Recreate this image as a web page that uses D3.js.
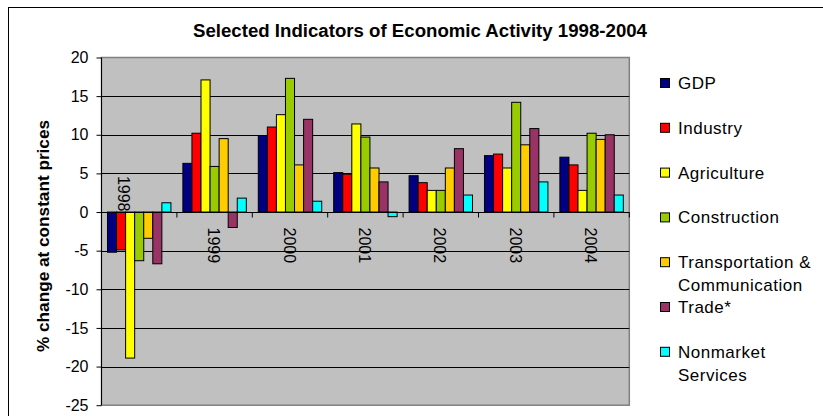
<!DOCTYPE html>
<html><head><meta charset="utf-8">
<script src="https://cdn.jsdelivr.net/npm/d3@7"></script>
<style>
html,body{margin:0;padding:0;background:#fff;}
text{font-family:"Liberation Sans",Arial,sans-serif;}
</style></head>
<body><svg id="c" width="823" height="416"></svg>
<script>
const title = "Selected Indicators of Economic Activity 1998-2004";
const yTitle = "% change at constant prices";
const categories = ["1998","1999","2000","2001","2002","2003","2004"];
const seriesNames = ["GDP","Industry","Agriculture","Construction","Transportation & Communication","Trade*","Nonmarket Services"];
const seriesColors = ["#000080","#FF0000","#FFFF00","#99CC00","#FFCC00","#993366","#00FFFF"];
const gdp          = [-5.2, 6.3,  9.9, 5.1, 4.7,  7.3,  7.1];
const industry     = [-4.9, 10.2, 11.0, 4.9, 3.8, 7.5,  6.1];
const agriculture  = [-18.9,17.1, 12.6, 11.4, 2.8, 5.7, 2.8];
const construction = [-6.3, 5.9,  17.3, 9.7, 2.8, 14.2, 10.2];
const transport    = [-3.4, 9.5,  6.1, 5.7, 5.7,  8.7,  9.4];
const trade        = [-6.7, -2.0, 12.0, 3.9, 8.2, 10.8, 10.0];
const nonmarket    = [1.2,  1.8,  1.4, -0.6, 2.2, 3.9,  2.2];
const yTicks = [-25,-20,-15,-10,-5,0,5,10,15,20];

const series = [gdp, industry, agriculture, construction, transport, trade, nonmarket];

const svg = d3.select("#c");
const L = 101.5, R = 629.3, T = 57.5, B = 405.2;

// outer chart border (left and top visible)
svg.append("rect").attr("x",8.5).attr("y",7.5).attr("width",900).attr("height",500)
  .attr("fill","#fff").attr("stroke","#000").attr("stroke-width",1);

const y = d3.scaleLinear().domain([-25,20]).range([B,T]);
const x0 = d3.scaleBand().domain(categories).range([L,R]).padding(0);
const x1 = d3.scaleBand().domain(d3.range(series.length)).range([0,x0.bandwidth()])
  .paddingInner(0).paddingOuter(0.66);

// plot area
svg.append("rect").attr("x",L).attr("y",T).attr("width",R-L).attr("height",B-T)
  .attr("fill","#C0C0C0").attr("stroke","#808080").attr("stroke-width",1.5);

// gridlines
svg.append("g").selectAll("line").data(yTicks.filter(v=>v>-25 && v<20)).join("line")
  .attr("x1",L).attr("x2",R).attr("y1",d=>Math.round(y(d))+0.5).attr("y2",d=>Math.round(y(d))+0.5)
  .attr("stroke","#000").attr("stroke-width",1);

// bars
const rows = [];
categories.forEach((c,ci)=>series.forEach((s,si)=>rows.push({c,si,v:s[ci]})));
svg.append("g").selectAll("rect").data(rows).join("rect")
  .attr("x",d=>x0(d.c)+x1(d.si))
  .attr("width",x1.bandwidth())
  .attr("y",d=>y(Math.max(0,d.v)))
  .attr("height",d=>Math.abs(y(d.v)-y(0)))
  .attr("fill",d=>seriesColors[d.si])
  .attr("stroke","#000").attr("stroke-width",1);

// y axis
const yAxis = d3.axisLeft(y).tickValues(yTicks).tickSize(5).tickPadding(8).tickFormat(d3.format("d"));
const gy = svg.append("g").attr("transform",`translate(${L},0)`).call(yAxis);
gy.select(".domain").attr("stroke","#000").attr("d",`M0,${T}V${B}`);
gy.selectAll(".tick line").attr("stroke","#000");
gy.selectAll(".tick text").attr("font-size",16).attr("fill","#000")
  .attr("font-family","'Liberation Sans',Arial,sans-serif").text(d=>d<0?"-"+Math.abs(d):d);

// x axis at zero
const zeroY = Math.round(y(0))+0.5;
svg.append("line").attr("x1",L).attr("x2",R).attr("y1",zeroY).attr("y2",zeroY).attr("stroke","#000");
svg.append("g").selectAll("line").data(categories.slice(1).concat(["__end"])).join("line")
  .attr("x1",d=>d==="__end"?R:x0(d)).attr("x2",d=>d==="__end"?R:x0(d))
  .attr("y1",zeroY).attr("y2",zeroY+5).attr("stroke","#000");

// category labels (rotated)
svg.append("g").selectAll("text").data(categories).join("text")
  .attr("transform",(d,i)=>{
    const cx = x0(d)+x0.bandwidth()/2;
    return i===0 ? `translate(${cx-21.5},${zeroY-1}) rotate(90)` : `translate(${cx-6.5},${zeroY+15}) rotate(90)`;
  })
  .attr("text-anchor",(d,i)=>i===0?"end":"start")
  .attr("font-size",16).attr("fill","#000").text(d=>d);

// title
svg.append("text").attr("x",420).attr("y",37).attr("text-anchor","middle")
  .attr("font-size",18).attr("font-weight","bold").attr("textLength",454).attr("lengthAdjust","spacingAndGlyphs")
  .text(title);

// y title
svg.append("text").attr("transform","translate(49,236) rotate(-90)").attr("text-anchor","middle")
  .attr("font-size",17).attr("font-weight","bold").attr("textLength",232).attr("lengthAdjust","spacingAndGlyphs")
  .text(yTitle);

// legend
const lg = svg.append("g");
const legX = 660.5, legY0 = 83, legStep = 44.8, lineH = 23, maxW = 136;
seriesNames.forEach((name,i)=>{
  const cy = legY0 + i*legStep;
  lg.append("rect").attr("x",legX).attr("y",cy-4.5).attr("width",9).attr("height",9)
    .attr("fill",seriesColors[i]).attr("stroke","#000").attr("stroke-width",1);
  const t = lg.append("text").attr("x",678).attr("y",cy+6).attr("font-size",17)
    .attr("letter-spacing",0.5).attr("fill","#000");
  // word wrap
  const words = name.split(" ");
  let line = [], ln = 0;
  let ts = t.append("tspan").attr("x",678).attr("dy",0);
  words.forEach(w=>{
    line.push(w); ts.text(line.join(" "));
    if (ts.node().getComputedTextLength() > maxW && line.length>1) {
      line.pop(); ts.text(line.join(" "));
      line=[w]; ln++;
      ts = t.append("tspan").attr("x",678).attr("dy",lineH).text(w);
    }
  });
});
</script></body></html>
